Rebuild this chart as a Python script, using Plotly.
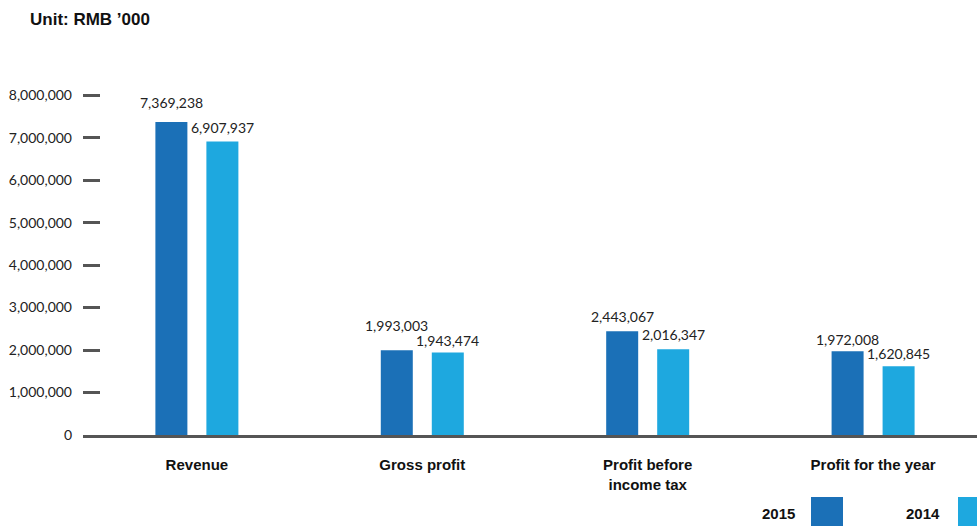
import plotly.graph_objects as go

categories = ["Revenue", "Gross profit", "Profit before<br>income tax", "Profit for the year"]
values_2015 = [7369238, 1993003, 2443067, 1972008]
values_2014 = [6907937, 1943474, 2016347, 1620845]
series_names = ["2015", "2014"]
tick_vals = [0, 1000000, 2000000, 3000000, 4000000, 5000000, 6000000, 7000000, 8000000]

# label vertical offsets (px above bar top), style only
label_lift_2015 = [20, 25, 15, 12]
label_lift_2014 = [14, 12, 15, 13]

W, H = 977, 526
ML, MR, MT, MB = 83, 0, 74, 91
PW, PH = W - ML - MR, H - MT - MB
XMIN, XMAX = -0.5053, 3.461
UNIT = PW / (XMAX - XMIN)  # px per category

C2015 = "#1b70b7"
C2014 = "#1ea8df"
AX = "#555555"

BAR_W = 32 / UNIT
HALF_SEP = 25.5 / UNIT

def px_x(px):
    return (px - ML) / PW

def px_y(py):
    return (H - MB - py) / PH

fig = go.Figure()
fig.add_trace(go.Bar(x=categories, y=values_2015, name=series_names[0],
                     width=BAR_W, offset=-HALF_SEP - BAR_W / 2,
                     marker=dict(color=C2015, line=dict(width=0))))
fig.add_trace(go.Bar(x=categories, y=values_2014, name=series_names[1],
                     width=BAR_W, offset=HALF_SEP - BAR_W / 2,
                     marker=dict(color=C2014, line=dict(width=0))))

label_font = dict(family="Lato, Open Sans, sans-serif", size=14, color="#222222")
for vals, xs, lifts in ((values_2015, -25.5, label_lift_2015), (values_2014, 25.5, label_lift_2014)):
    for c, v, ys in zip(categories, vals, lifts):
        fig.add_annotation(x=c, y=v, text=f"{v:,}", showarrow=False,
                           xshift=xs, yshift=ys, yanchor="middle",
                           font=label_font)

# legend (custom, large swatches)
leg_font = dict(family="Liberation Sans, Arial, sans-serif", size=15, color="#111111")
for name, col, tx, sx in ((series_names[0], C2015, 797, 811), (series_names[1], C2014, 942, 958)):
    fig.add_annotation(xref="paper", yref="paper", x=px_x(tx), y=px_y(513),
                       text=f"<b>{name}</b>", showarrow=False, xanchor="right",
                       yanchor="middle", font=leg_font)
    fig.add_shape(type="rect", xref="paper", yref="paper",
                  x0=px_x(sx), x1=px_x(sx + 32), y0=px_y(497), y1=px_y(530),
                  fillcolor=col, line=dict(width=0), layer="above")

fig.update_layout(
    width=W, height=H,
    margin=dict(l=ML, r=MR, t=MT, b=MB),
    paper_bgcolor="white", plot_bgcolor="white",
    barmode="overlay",
    showlegend=False,
    title=dict(text="<b>Unit: RMB ’000</b>", xref="container", yref="container",
               x=30 / W, xanchor="left", y=1 - 19 / H, yanchor="middle",
               font=dict(family="Liberation Sans, Arial, sans-serif", size=17, color="#111111")),
    xaxis=dict(range=[XMIN, XMAX], showline=True, linecolor=AX, linewidth=3,
               ticks="", showgrid=False, zeroline=False, ticklabelstandoff=14,
               tickfont=dict(family="Liberation Sans, Arial, sans-serif", size=15, color="#111111"),
               tickvals=categories, ticktext=[f"<b>{c}</b>" for c in categories]),
    yaxis=dict(range=[0, 8500000], tickvals=tick_vals,
               ticktext=[f"{v:,}" for v in tick_vals],
               ticks="inside", ticklen=17, tickwidth=3, tickcolor=AX,
               showline=False, showgrid=False, zeroline=False,
               ticklabelstandoff=10,
               tickfont=dict(family="Lato, Open Sans, sans-serif", size=14, color="#222222")),
)

fig.write_html("out.html")
